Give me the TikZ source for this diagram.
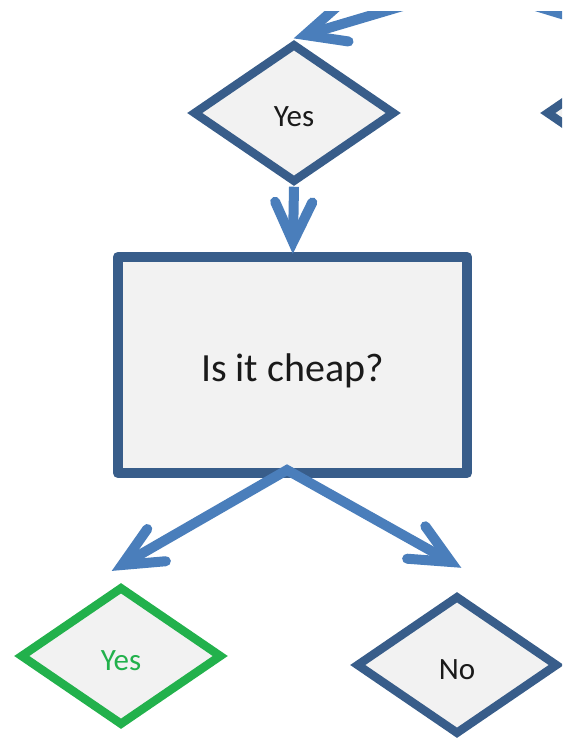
\documentclass[tikz,border=0pt]{standalone}
\usepackage{fontspec}
\setmainfont{Carlito}
\usetikzlibrary{shapes.geometric,calc}
\definecolor{boxblue}{HTML}{385D8A}
\definecolor{arrowblue}{HTML}{4A7EBB}
\definecolor{boxfill}{HTML}{F2F2F2}
\definecolor{yesgreen}{HTML}{22B14C}
\definecolor{txt}{HTML}{1A1A1A}
\newcommand\chevhead[2]{\draw[chevron] ($(#1)!44pt!25:(#2)$) -- (#1) -- ($(#1)!44pt!-25:(#2)$);}
\begin{document}
\begin{tikzpicture}[x=1pt,y=-1pt,
  dia/.style={diamond, draw=boxblue, fill=boxfill, line width=8.5pt, line join=miter,
    minimum width=202pt, minimum height=139pt, inner sep=0pt,
    font=\fontsize{31}{36}\selectfont, text=txt, text height=28pt, text depth=0pt},
  box/.style={rectangle, draw=boxblue, fill=boxfill, line width=10.5pt, line join=round,
    minimum width=349pt, minimum height=216pt, inner sep=0pt,
    font=\fontsize{40}{46}\selectfont, text=txt, text height=36pt, text depth=4pt},
  conn/.style={draw=arrowblue, line width=10pt, line join=miter},
  chevron/.style={draw=arrowblue, line width=10pt, line cap=round, line join=miter}]
\useasboundingbox (0,0) rectangle (562,741);
\begin{scope}
\clip (0,12) rectangle (562,741);
\node[dia] (top) at (294,113) {Yes};
\node[dia] (right) at (647,113) {};
\node[box] (q) at (292.5,365) {Is it cheap?};
\node[dia, draw=yesgreen, text=yesgreen] (yes) at (121,656) {Yes};
\node[dia] (no) at (457,665) {No};
\coordinate (src) at (470,-14);
\coordinate (t1) at (305,35);
\coordinate (t2) at (637,37);
\coordinate (t3) at (293,242);
\coordinate (apex) at (287,470);
\coordinate (tL) at (122,565);
\coordinate (tR) at (451,562);
\draw[conn] (t1) -- (src) -- (t2);
\chevhead{t1}{src}
\chevhead{t2}{src}
\draw[conn] (top.south) -- (t3);
\chevhead{t3}{top.south}
\draw[conn] (tL) -- (apex) -- (tR);
\chevhead{tL}{apex}
\chevhead{tR}{apex}
\end{scope}
\end{tikzpicture}
\end{document}
